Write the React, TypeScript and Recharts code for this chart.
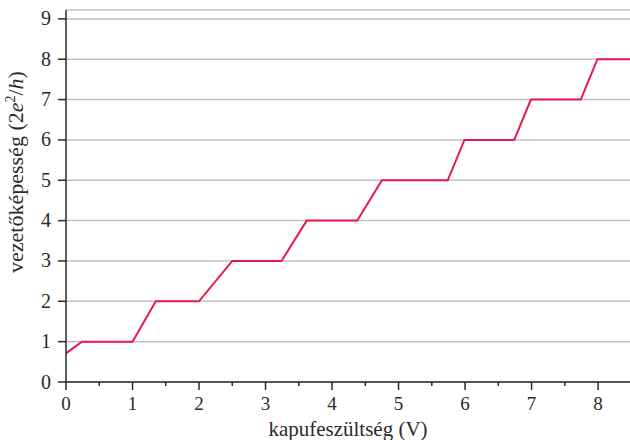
import { LineChart, Line, XAxis, YAxis, CartesianGrid } from 'recharts';

const gateVoltage = [0, 0.24, 1.0, 1.35, 2.0, 2.5, 3.24, 3.62, 4.38, 4.75, 5.74, 5.99, 6.74, 6.99, 7.74, 7.99, 8.48];
const conductance = [0.71, 1, 1, 2, 2, 3, 3, 4, 4, 5, 5, 6, 6, 7, 7, 8, 8];
const xTicks = [0, 0.5, 1, 1.5, 2, 2.5, 3, 3.5, 4, 4.5, 5, 5.5, 6, 6.5, 7, 7.5, 8];
const yTicks = [0, 1, 2, 3, 4, 5, 6, 7, 8, 9];

const data = gateVoltage.map((v, i) => ({ v, g: conductance[i] }));

const FONT = '"Liberation Serif", "DejaVu Serif", serif';
const INK = '#2a2a2a';

const XTick = (props: any) => {
  const { x, y, payload } = props;
  const major = Number.isInteger(payload.value);
  return (
    <g>
      <line x1={x} x2={x} y1={y} y2={y + (major ? 8 : 4)} stroke={INK} strokeWidth={1.5} />
      {major && (
        <text x={x} y={y + 28} textAnchor="middle" fontSize={19} fontFamily={FONT} fill={INK}>
          {payload.value}
        </text>
      )}
    </g>
  );
};

const YTick = (props: any) => {
  const { x, y, payload } = props;
  return (
    <g>
      <line x1={x - 8} x2={x} y1={y} y2={y} stroke={INK} strokeWidth={1.5} />
      <text x={x - 15} y={y + 6.5} textAnchor="end" fontSize={20} fontFamily={FONT} fill={INK}>
        {payload.value}
      </text>
    </g>
  );
};

const YLabel = () => (
  <text
    x={23}
    y={172}
    transform="rotate(-90 23 172)"
    textAnchor="middle"
    fontSize={22}
    fontFamily={FONT}
    fill={INK}
  >
    vezetőképesség (2<tspan fontStyle="italic">e</tspan>
    <tspan dy={-8} fontSize={14}>2</tspan>
    <tspan dy={8}>/</tspan>
    <tspan fontStyle="italic">h</tspan>)
  </text>
);

export default function App() {
  return (
    <div style={{ position: 'absolute', left: 0, top: 0, width: 630, height: 440, background: '#fff' }}>
      <LineChart width={630} height={440} data={data} margin={{ top: 10, right: 0, left: 0, bottom: 0 }}>
        <CartesianGrid vertical={false} stroke="#c2c2c2" strokeWidth={1.5} />
        <XAxis
          dataKey="v"
          type="number"
          domain={[0, 8.48]}
          ticks={xTicks}
          interval={0}
          allowDataOverflow
          height={58}
          tickSize={0}
          tickMargin={0}
          tickLine={false}
          axisLine={{ stroke: INK, strokeWidth: 1.5 }}
          tick={<XTick />}
          label={{
            value: 'kapufeszültség (V)',
            position: 'insideBottom',
            offset: 4,
            fontSize: 21,
            fontFamily: FONT,
            fill: INK,
          }}
        />
        <YAxis
          type="number"
          domain={[0, 9.22]}
          ticks={yTicks}
          interval={0}
          allowDataOverflow
          width={66}
          tickSize={0}
          tickMargin={0}
          tickLine={false}
          axisLine={{ stroke: INK, strokeWidth: 1.5 }}
          tick={<YTick />}
          label={{ content: () => <YLabel /> }}
        />
        <Line
          type="linear"
          dataKey="g"
          stroke="#e8194b"
          strokeWidth={2}
          dot={false}
          isAnimationActive={false}
        />
      </LineChart>
    </div>
  );
}
